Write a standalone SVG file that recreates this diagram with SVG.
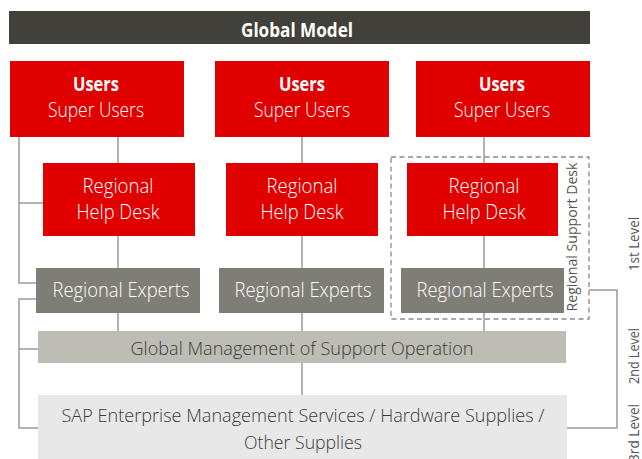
<svg xmlns="http://www.w3.org/2000/svg" width="642" height="459" viewBox="0 0 642 459">
<style>
text{font-family:"Open Sans","Liberation Sans",sans-serif;text-anchor:middle}
.w{fill:#ffffff;font-size:20px;font-weight:300}
.b{fill:#ffffff;font-size:20px;font-weight:700}
.d{fill:#3a3a3a;font-size:19px;font-weight:300}
.v{fill:#555555;font-size:14px;font-weight:400}
.red{fill:#e10000}
.exp{fill:#7f7e76}
.ln{fill:none;stroke:#9b9b9b;stroke-width:1.5}
</style>
<rect width="642" height="459" fill="#ffffff"/>
<g id="connectors">
<path class="ln" d="M19 137V283H36M19 203H43"/>
<path class="ln" d="M36 299H19V428H38M19 349H38"/>
<path class="ln" d="M118 137V163M118 236V268M118 313V331"/>
<path class="ln" d="M302 137V163M302 236V268M302 313V331M302 363V395"/>
<path class="ln" d="M484 137V163M484 236V268M484 313V331"/>
<path class="ln" d="M589 290H617V428H567"/>
</g>
<g id="global-model">
<rect x="9" y="11" width="581" height="33" fill="#42403a"/>
<text class="b" x="297" y="37" style="font-size:19px" textLength="112" lengthAdjust="spacingAndGlyphs">Global Model</text>
</g>
<g id="users1">
<rect class="red" x="10" y="61" width="174" height="76"/>
<text class="b" x="96" y="91" textLength="46" lengthAdjust="spacingAndGlyphs">Users</text>
<text class="w" x="96" y="117" textLength="96" lengthAdjust="spacingAndGlyphs">Super Users</text>
</g>
<g id="users2">
<rect class="red" x="215" y="61" width="174" height="76"/>
<text class="b" x="302" y="91" textLength="46" lengthAdjust="spacingAndGlyphs">Users</text>
<text class="w" x="302" y="117" textLength="96" lengthAdjust="spacingAndGlyphs">Super Users</text>
</g>
<g id="users3">
<rect class="red" x="416" y="61" width="174" height="76"/>
<text class="b" x="502" y="91" textLength="46" lengthAdjust="spacingAndGlyphs">Users</text>
<text class="w" x="502" y="117" textLength="96" lengthAdjust="spacingAndGlyphs">Super Users</text>
</g>
<g id="support-desk">
<rect x="391" y="157" width="198" height="162" fill="none" stroke="#8c8c8c" stroke-width="1.3" stroke-dasharray="5,3.5"/>
<text class="v" transform="translate(577 237) rotate(-90)" style="font-size:15px" textLength="149" lengthAdjust="spacingAndGlyphs">Regional Support Desk</text>
</g>
<g id="helpdesk1">
<rect class="red" x="43" y="163" width="152" height="73"/>
<text class="w" x="118" y="193" textLength="71" lengthAdjust="spacingAndGlyphs">Regional</text>
<text class="w" x="118" y="219" textLength="83" lengthAdjust="spacingAndGlyphs">Help Desk</text>
</g>
<g id="helpdesk2">
<rect class="red" x="226" y="163" width="152" height="73"/>
<text class="w" x="302" y="193" textLength="71" lengthAdjust="spacingAndGlyphs">Regional</text>
<text class="w" x="302" y="219" textLength="83" lengthAdjust="spacingAndGlyphs">Help Desk</text>
</g>
<g id="helpdesk3">
<rect class="red" x="407" y="163" width="151" height="73"/>
<text class="w" x="484" y="193" textLength="71" lengthAdjust="spacingAndGlyphs">Regional</text>
<text class="w" x="484" y="219" textLength="83" lengthAdjust="spacingAndGlyphs">Help Desk</text>
</g>
<g id="experts1">
<rect class="exp" x="36" y="268" width="164" height="45"/>
<text class="w" x="121" y="297" textLength="137" lengthAdjust="spacingAndGlyphs">Regional Experts</text>
</g>
<g id="experts2">
<rect class="exp" x="219" y="268" width="165" height="45"/>
<text class="w" x="303" y="297" textLength="137" lengthAdjust="spacingAndGlyphs">Regional Experts</text>
</g>
<g id="experts3">
<rect class="exp" x="401" y="268" width="163" height="45"/>
<text class="w" x="485" y="297" textLength="137" lengthAdjust="spacingAndGlyphs">Regional Experts</text>
</g>
<g id="global-management">
<rect x="38" y="331" width="528" height="32" fill="#bdbdb6"/>
<text class="d" x="302" y="355" textLength="343" lengthAdjust="spacingAndGlyphs">Global Management of Support Operation</text>
</g>
<g id="sap">
<rect x="38" y="395" width="529" height="64" fill="#e8e8e8"/>
<text class="d" x="303" y="422" textLength="483" lengthAdjust="spacingAndGlyphs">SAP Enterprise Management Services / Hardware Supplies /</text>
<text class="d" x="303" y="449" textLength="118" lengthAdjust="spacingAndGlyphs">Other Supplies</text>
</g>
<g id="levels">
<text class="v" transform="translate(639 244) rotate(-90)" textLength="54" lengthAdjust="spacingAndGlyphs">1st Level</text>
<text class="v" transform="translate(639 356) rotate(-90)" textLength="56" lengthAdjust="spacingAndGlyphs">2nd Level</text>
<text class="v" transform="translate(639 433) rotate(-90)" textLength="58" lengthAdjust="spacingAndGlyphs">3rd Level</text>
</g>
</svg>
